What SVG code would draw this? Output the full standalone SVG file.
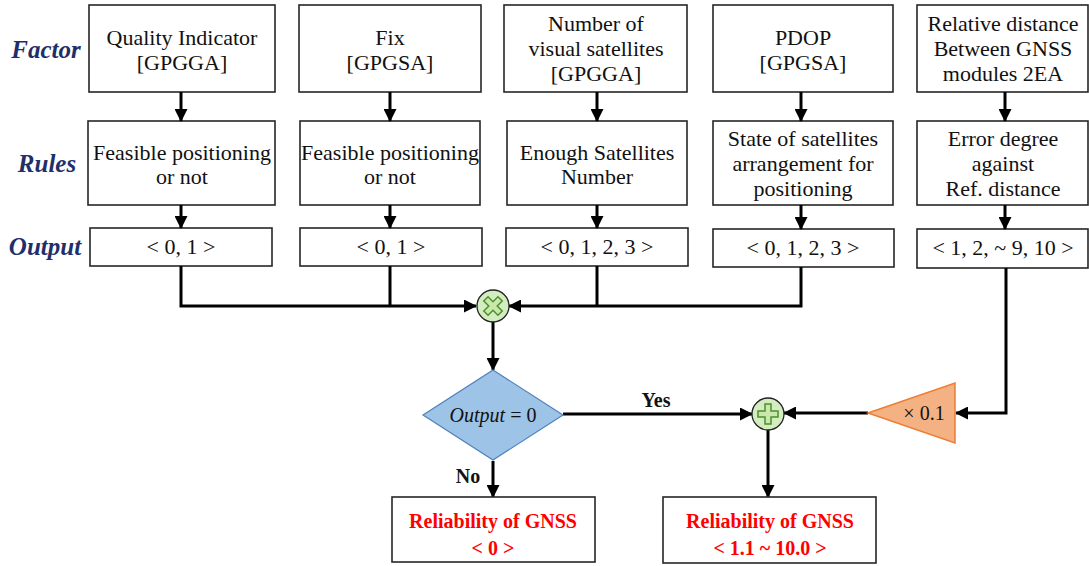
<svg xmlns="http://www.w3.org/2000/svg" width="1089" height="566" viewBox="0 0 1089 566">
<style>
.box{fill:#fff;stroke:#262626;stroke-width:1.6}
.t{font-family:"Liberation Serif","DejaVu Serif",serif;font-size:22px;fill:#111;text-anchor:middle}
.lab{font-family:"Liberation Serif","DejaVu Serif",serif;font-size:25px;font-weight:bold;font-style:italic;fill:#1f2f6b;text-anchor:middle}
.red{font-family:"Liberation Serif","DejaVu Serif",serif;font-size:20px;font-weight:bold;fill:#ff0000;text-anchor:middle}
.bold{font-family:"Liberation Serif","DejaVu Serif",serif;font-size:20px;font-weight:bold;fill:#111;text-anchor:middle}
.c{fill:none;stroke:#000;stroke-width:3}
.ca{fill:none;stroke:#000;stroke-width:3;marker-end:url(#ah)}
.op{fill:#d3ecc0;stroke:#222;stroke-width:1.3}
.ic{fill:#c9e8ac;stroke:#4f8f30;stroke-width:1.5}
</style>
<defs>
<marker id="ah" markerUnits="userSpaceOnUse" markerWidth="13" markerHeight="13" refX="12" refY="6.5" orient="auto">
<path d="M0,0 L13,6.5 L0,13 z" fill="#000"/>
</marker>
</defs>

<g id="labels">
<text class="lab" x="46" y="58">Factor</text>
<text class="lab" x="47" y="172">Rules</text>
<text class="lab" x="45" y="255">Output</text>
</g>

<g id="factor1"><rect class="box" x="89" y="5" width="186" height="87"/>
<text class="t" x="182" y="45">Quality Indicator</text><text class="t" x="182" y="70">[GPGGA]</text></g>
<g id="factor2"><rect class="box" x="299" y="5" width="182" height="87"/>
<text class="t" x="390" y="45">Fix</text><text class="t" x="390" y="70">[GPGSA]</text></g>
<g id="factor3"><rect class="box" x="504" y="5" width="183" height="87"/>
<text class="t" x="596" y="31">Number of</text><text class="t" x="596" y="56">visual satellites</text><text class="t" x="596" y="81">[GPGGA]</text></g>
<g id="factor4"><rect class="box" x="713" y="5" width="180" height="87"/>
<text class="t" x="803" y="45">PDOP</text><text class="t" x="803" y="70">[GPGSA]</text></g>
<g id="factor5"><rect class="box" x="917" y="5" width="171" height="87"/>
<text class="t" x="1003" y="31">Relative distance</text><text class="t" x="1003" y="56">Between GNSS</text><text class="t" x="1003" y="81">modules 2EA</text></g>

<g id="rules1"><rect class="box" x="88" y="121" width="187" height="84"/>
<text class="t" x="182" y="160">Feasible positioning</text><text class="t" x="182" y="184">or not</text></g>
<g id="rules2"><rect class="box" x="300" y="121" width="180" height="84"/>
<text class="t" x="390" y="160">Feasible positioning</text><text class="t" x="390" y="184">or not</text></g>
<g id="rules3"><rect class="box" x="507" y="121" width="180" height="84"/>
<text class="t" x="597" y="160">Enough Satellites</text><text class="t" x="597" y="184">Number</text></g>
<g id="rules4"><rect class="box" x="713" y="121" width="180" height="84"/>
<text class="t" x="803" y="146">State of satellites</text><text class="t" x="803" y="171">arrangement for</text><text class="t" x="803" y="196">positioning</text></g>
<g id="rules5"><rect class="box" x="917" y="121" width="171" height="84"/>
<text class="t" x="1003" y="146">Error degree</text><text class="t" x="1003" y="171">against</text><text class="t" x="1003" y="196">Ref. distance</text></g>

<g id="out1"><rect class="box" x="90" y="228" width="182" height="38"/><text class="t" x="181" y="254">&lt; 0, 1 &gt;</text></g>
<g id="out2"><rect class="box" x="300" y="228" width="182" height="38"/><text class="t" x="391" y="254">&lt; 0, 1 &gt;</text></g>
<g id="out3"><rect class="box" x="506" y="228" width="182" height="38"/><text class="t" x="597" y="254">&lt; 0, 1, 2, 3 &gt;</text></g>
<g id="out4"><rect class="box" x="713" y="229" width="181" height="38"/><text class="t" x="803" y="255">&lt; 0, 1, 2, 3 &gt;</text></g>
<g id="out5"><rect class="box" x="917" y="229" width="171" height="39"/><text class="t" x="1003" y="255">&lt; 1, 2, ~ 9, 10 &gt;</text></g>

<g id="connectors">
<line class="ca" x1="181" y1="92" x2="181" y2="121"/>
<line class="ca" x1="390" y1="92" x2="390" y2="121"/>
<line class="ca" x1="597" y1="92" x2="597" y2="121"/>
<line class="ca" x1="801" y1="92" x2="801" y2="121"/>
<line class="ca" x1="1005" y1="92" x2="1005" y2="121"/>
<line class="ca" x1="181" y1="205" x2="181" y2="228"/>
<line class="ca" x1="390" y1="205" x2="390" y2="228"/>
<line class="ca" x1="597" y1="205" x2="597" y2="228"/>
<line class="ca" x1="801" y1="205" x2="801" y2="229"/>
<line class="ca" x1="1005" y1="205" x2="1005" y2="229"/>
<path class="ca" d="M181,266 V306 H476"/>
<line class="c" x1="390" y1="266" x2="390" y2="306"/>
<path class="ca" d="M801,267 V306 H509"/>
<line class="c" x1="597" y1="266" x2="597" y2="306"/>
<line class="ca" x1="493" y1="322" x2="493" y2="370"/>
<line class="ca" x1="563" y1="414" x2="752" y2="414"/>
<line class="ca" x1="493" y1="461" x2="493" y2="497"/>
<line class="ca" x1="768" y1="430" x2="768" y2="497"/>
<path class="ca" d="M1006,268 V413 H956"/>
<line class="ca" x1="868" y1="413" x2="784" y2="413"/>
</g>

<g id="mult">
<circle class="op" cx="493" cy="306" r="16"/>
<path class="ic" transform="translate(493,306) rotate(45)" d="M-3,-10 H3 V-3 H10 V3 H3 V10 H-3 V3 H-10 V-3 H-3 Z"/>
</g>

<g id="decision">
<polygon points="493,370 563,415 493,460 423,415" fill="#9dc3e6" stroke="#4f81bd" stroke-width="1.2"/>
<text x="493" y="422" style="font-family:'Liberation Serif','DejaVu Serif',serif;font-size:20px;fill:#111" text-anchor="middle"><tspan font-style="italic">Output</tspan> = 0</text>
</g>
<text class="bold" x="656" y="407">Yes</text>
<text class="bold" x="468" y="483">No</text>

<g id="sum">
<circle class="op" cx="768" cy="414" r="16"/>
<path class="ic" transform="translate(768,414)" d="M-3,-10 H3 V-3 H10 V3 H3 V10 H-3 V3 H-10 V-3 H-3 Z"/>
</g>

<g id="gain">
<polygon points="868,413 955,383 955,443" fill="#f4b183" stroke="#ed7d31" stroke-width="1.5"/>
<text class="t" x="924" y="420" style="font-size:20px">× 0.1</text>
</g>

<g id="result0"><rect class="box" x="392" y="497" width="203" height="65"/>
<text class="red" x="493" y="528">Reliability of GNSS</text><text class="red" x="493" y="555">&lt; 0 &gt;</text></g>
<g id="result1"><rect class="box" x="663" y="497" width="213" height="66"/>
<text class="red" x="770" y="528">Reliability of GNSS</text><text class="red" x="770" y="555">&lt; 1.1 ~ 10.0 &gt;</text></g>
</svg>
